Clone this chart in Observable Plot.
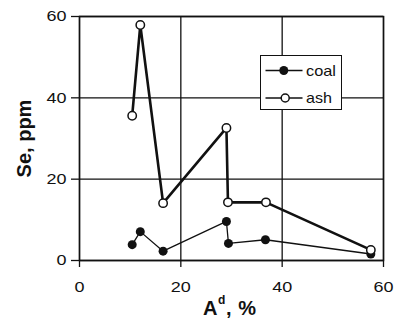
<!DOCTYPE html>
<html><head><meta charset="utf-8">
<script src="https://cdn.jsdelivr.net/npm/d3@7"></script>
<script src="https://cdn.jsdelivr.net/npm/@observablehq/plot@0.6"></script>
<style>
body{margin:0;background:#fff;}
#wrap{position:relative;width:394px;height:323px;font-family:"Liberation Sans",Arial,sans-serif;color:#111;}
#xlab{position:absolute;left:203px;top:298px;font-weight:bold;font-size:20px;line-height:20px;letter-spacing:0.6px;white-space:nowrap;}
#xlab sup{font-size:12px;vertical-align:11px;line-height:0;}
#legend{position:absolute;left:260px;top:55px;width:82px;height:55px;box-sizing:border-box;border:1.5px solid #111;background:#fff;}
#legend svg{display:block;}
</style></head><body><div id="wrap"></div>
<script>
const ashX = [10.4, 12.0, 16.5, 29.0, 29.3, 36.8, 57.5];
const ashY = [35.6, 57.9, 14.1, 32.6, 14.3, 14.3, 2.6];
const coalX = [10.4, 12.0, 16.5, 29.0, 29.4, 36.7, 57.5];
const coalY = [3.9, 7.1, 2.3, 9.6, 4.2, 5.1, 1.6];
const xTicks = [0, 20, 40, 60];
const yTicks = [0, 20, 40, 60];
const seriesNames = ["coal", "ash"];
const yLabel = "Se, ppm";

const ash = ashX.map((x, i) => ({x, y: ashY[i]}));
const coal = coalX.map((x, i) => ({x, y: coalY[i]}));
const ink = "#111";

const plot = Plot.plot({
  width: 394, height: 323,
  marginLeft: 79, marginRight: 11, marginTop: 16, marginBottom: 63,
  x: {domain: [0, 60]},
  y: {domain: [0, 60]},
  style: {fontFamily: '"Liberation Sans", Arial, sans-serif', fontSize: "15px", color: ink, background: "#fff"},
  marks: [
    Plot.ruleX(xTicks, {stroke: ink, strokeWidth: 1.3}),
    Plot.ruleY(yTicks, {stroke: ink, strokeWidth: 1.3}),
    Plot.frame({stroke: ink, strokeWidth: 1.5}),
    Plot.axisX({ticks: xTicks, tickSize: 7, tickPadding: 14, label: null, stroke: ink, strokeWidth: 1.3, fontSize: 15}),
    Plot.axisY({ticks: yTicks, tickSize: 8, tickPadding: 5, label: null, stroke: ink, strokeWidth: 1.3, fontSize: 15}),
    Plot.line(ash, {x: "x", y: "y", stroke: ink, strokeWidth: 2.6}),
    Plot.line(coal, {x: "x", y: "y", stroke: ink, strokeWidth: 1.3}),
    Plot.dot(coal, {x: "x", y: "y", r: 4.5, fill: ink}),
    Plot.dot(ash, {x: "x", y: "y", r: 4.2, fill: "#fff", stroke: ink, strokeWidth: 1.5}),
    Plot.text([yLabel], {frameAnchor: "left", textAnchor: "middle", dx: -55, rotate: -90, fontWeight: "bold", fontSize: 20, fill: ink})
  ]
});

const wrap = document.getElementById("wrap");
wrap.appendChild(plot);

// widen tick labels horizontally (reference glyphs are broad)
plot.querySelectorAll('g[aria-label="x-axis tick label"] text, g[aria-label="y-axis tick label"] text').forEach(t => {
  const len = t.getComputedTextLength();
  if (len > 0) {
    t.setAttribute("textLength", (len * 1.2).toFixed(2));
    t.setAttribute("lengthAdjust", "spacingAndGlyphs");
  }
});

const xl = document.createElement("div");
xl.id = "xlab";
xl.innerHTML = "A<sup>d</sup>, %";
wrap.appendChild(xl);

const lg = document.createElement("div");
lg.id = "legend";
lg.innerHTML = `<svg width="79" height="52">
  <line x1="4.5" x2="41.5" y1="14.5" y2="14.5" stroke="${ink}" stroke-width="1.5"/>
  <circle cx="22.8" cy="14.5" r="4.5" fill="${ink}"/>
  <text x="45" y="19.5" font-size="14.5" textLength="30" lengthAdjust="spacingAndGlyphs" fill="${ink}">${seriesNames[0]}</text>
  <line x1="4.5" x2="41.5" y1="42" y2="42" stroke="${ink}" stroke-width="1.5"/>
  <circle cx="24.2" cy="42" r="4" fill="#fff" stroke="${ink}" stroke-width="1.5"/>
  <text x="45" y="46.5" font-size="14.5" textLength="26" lengthAdjust="spacingAndGlyphs" fill="${ink}">${seriesNames[1]}</text>
</svg>`;
wrap.appendChild(lg);
</script>
</body></html>
